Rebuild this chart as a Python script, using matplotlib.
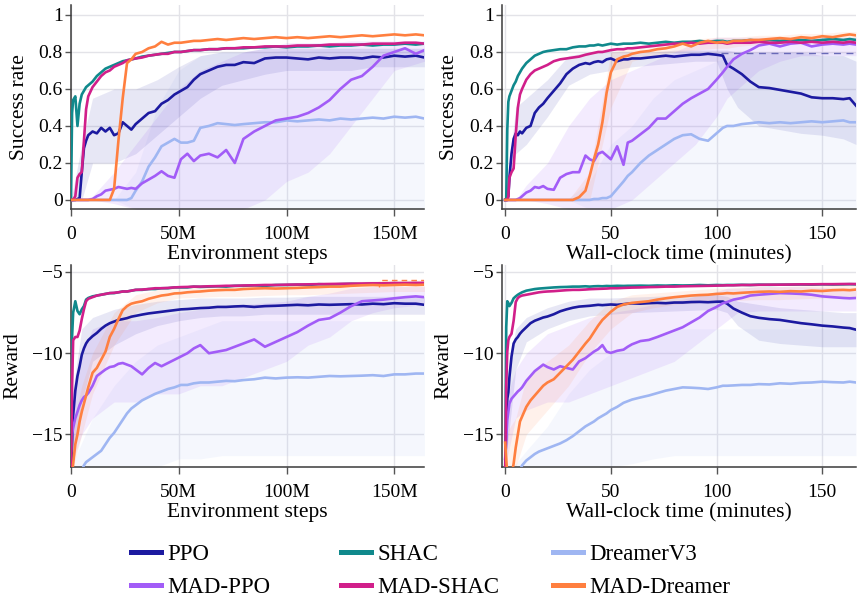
import matplotlib
matplotlib.use("Agg")
import matplotlib.pyplot as plt
from matplotlib.lines import Line2D

# ---------------- data ----------------
STEPS = [0, 0.5, 1, 2, 3, 4, 5, 6, 7, 8, 10, 12, 14, 16, 18, 20, 22, 24, 26, 28, 30,
         33, 36, 39, 42, 45, 48, 51, 54, 57, 60, 64, 68, 72, 76, 80, 85, 90, 95, 100,
         105, 110, 115, 120, 125, 130, 135, 140, 145, 150, 155, 160, 164]
MINUTES = [0, 0.5, 1, 1.5, 2, 3, 4, 5, 6, 7, 8, 10, 12, 14, 16, 18, 20, 23, 26, 29, 32,
           35, 38, 40, 42, 44, 46, 48, 50, 53, 56, 58, 60, 64, 68, 72, 76, 80, 84, 88,
           92, 96, 100, 103, 105, 108, 112, 116, 120, 125, 130, 135, 140, 145, 150, 155,
           160, 163, 166]

METHODS = ["PPO", "SHAC", "DreamerV3", "MAD-PPO", "MAD-SHAC", "MAD-Dreamer"]
COLORS = {"PPO": "#1c1aa0", "SHAC": "#10898c", "DreamerV3": "#9fb6f2",
          "MAD-PPO": "#a25cf7", "MAD-SHAC": "#d11f8a", "MAD-Dreamer": "#ff7f3f"}

# success rate vs environment steps (M)
SR_STEPS_PPO = [0, 0, 0, 0, 0.005, 0.01, 0.15, 0.28, 0.32, 0.35, 0.37, 0.36, 0.39, 0.37, 0.39,
                0.35, 0.36, 0.42, 0.40, 0.38, 0.41, 0.44, 0.47, 0.48, 0.52, 0.54, 0.57, 0.59,
                0.61, 0.65, 0.68, 0.70, 0.72, 0.73, 0.73, 0.745, 0.74, 0.765, 0.77, 0.77,
                0.765, 0.76, 0.77, 0.765, 0.77, 0.77, 0.765, 0.775, 0.77, 0.78, 0.775, 0.78, 0.77]
SR_STEPS_SHAC = [0, 0.47, 0.54, 0.56, 0.40, 0.52, 0.57, 0.59, 0.61, 0.62, 0.64, 0.67, 0.69,
                 0.71, 0.72, 0.73, 0.74, 0.75, 0.755, 0.76, 0.765, 0.775, 0.78, 0.785, 0.79,
                 0.795, 0.80, 0.80, 0.805, 0.81, 0.81, 0.815, 0.815, 0.82, 0.82, 0.82, 0.825,
                 0.825, 0.83, 0.825, 0.83, 0.83, 0.835, 0.83, 0.835, 0.835, 0.84, 0.835, 0.84,
                 0.84, 0.845, 0.84, 0.845]
SR_STEPS_DREAMER = [0] * 19 + [0.01, 0.05, 0.1, 0.18, 0.23, 0.29, 0.31, 0.33, 0.31, 0.31,
                               0.32, 0.39, 0.40, 0.415, 0.41, 0.405, 0.41, 0.415, 0.42, 0.42,
                               0.43, 0.425, 0.43, 0.435, 0.43, 0.44, 0.435, 0.44, 0.445, 0.44,
                               0.45, 0.445, 0.45, 0.44]
SR_STEPS_MADPPO = [0] * 10 + [0.005, 0.02, 0.03, 0.05, 0.055, 0.06, 0.07, 0.065, 0.06, 0.065,
                              0.06, 0.09, 0.11, 0.13, 0.155, 0.13, 0.12, 0.22, 0.25, 0.21,
                              0.24, 0.25, 0.23, 0.27, 0.20, 0.33, 0.37, 0.40, 0.43, 0.44,
                              0.45, 0.47, 0.50, 0.54, 0.60, 0.65, 0.67, 0.72, 0.78, 0.80,
                              0.82, 0.79, 0.81]
SR_STEPS_MADSHAC = [0, 0, 0, 0.02, 0.12, 0.14, 0.15, 0.32, 0.49, 0.56, 0.61, 0.64, 0.67, 0.69,
                    0.70, 0.72, 0.73, 0.74, 0.755, 0.76, 0.765, 0.77, 0.78, 0.785, 0.79, 0.79,
                    0.80, 0.80, 0.805, 0.81, 0.81, 0.815, 0.815, 0.82, 0.82, 0.825, 0.825, 0.83,
                    0.83, 0.83, 0.835, 0.835, 0.835, 0.84, 0.84, 0.84, 0.84, 0.845, 0.845,
                    0.845, 0.85, 0.85, 0.845]
SR_STEPS_MADDREAMER = [0] * 15 + [0.06, 0.32, 0.55, 0.74, 0.76, 0.79, 0.80, 0.82, 0.83, 0.855,
                                  0.84, 0.85, 0.85, 0.855, 0.86, 0.86, 0.865, 0.87, 0.865, 0.87,
                                  0.875, 0.87, 0.875, 0.88, 0.875, 0.88, 0.875, 0.88, 0.885,
                                  0.88, 0.885, 0.89, 0.885, 0.89, 0.895, 0.89, 0.895, 0.89]

# success rate vs wall-clock minutes
SR_MIN_PPO = [0, 0, 0, 0.02, 0.12, 0.25, 0.33, 0.36, 0.35, 0.37, 0.36, 0.39, 0.40, 0.47, 0.50,
              0.52, 0.55, 0.59, 0.63, 0.68, 0.71, 0.73, 0.74, 0.735, 0.745, 0.75, 0.745, 0.76,
              0.765, 0.75, 0.76, 0.76, 0.765, 0.765, 0.77, 0.775, 0.78, 0.775, 0.78, 0.785,
              0.785, 0.79, 0.785, 0.78, 0.73, 0.71, 0.68, 0.64, 0.61, 0.605, 0.595, 0.585,
              0.575, 0.555, 0.55, 0.55, 0.545, 0.55, 0.51]
SR_MIN_SHAC = [0, 0, 0.38, 0.53, 0.56, 0.59, 0.62, 0.64, 0.67, 0.69, 0.71, 0.74, 0.76, 0.78,
               0.79, 0.80, 0.805, 0.81, 0.815, 0.815, 0.825, 0.83, 0.83, 0.835, 0.835, 0.84,
               0.835, 0.84, 0.845, 0.84, 0.845, 0.845, 0.845, 0.85, 0.845, 0.85, 0.855, 0.85,
               0.855, 0.855, 0.86, 0.855, 0.86, 0.86, 0.855, 0.86, 0.86, 0.865, 0.86, 0.865,
               0.86, 0.865, 0.865, 0.86, 0.865, 0.87, 0.865, 0.87, 0.865]
SR_MIN_DREAMER = [0] * 24 + [0.005, 0.005, 0.01, 0.01, 0.02, 0.06, 0.10, 0.13, 0.15, 0.20,
                             0.24, 0.27, 0.30, 0.33, 0.35, 0.355, 0.33, 0.32, 0.36, 0.39,
                             0.40, 0.40, 0.41, 0.415, 0.42, 0.415, 0.42, 0.415, 0.42, 0.425,
                             0.42, 0.425, 0.43, 0.42, 0.42]
SR_MIN_MADPPO = [0] * 8 + [0.005, 0.01, 0.02, 0.04, 0.05, 0.07, 0.065, 0.075, 0.06, 0.055,
                           0.12, 0.14, 0.15, 0.15, 0.24, 0.22, 0.21, 0.25, 0.26, 0.24,
                           0.22, 0.29, 0.19, 0.31, 0.32, 0.355, 0.39, 0.44, 0.44, 0.48,
                           0.52, 0.55, 0.575, 0.60, 0.65, 0.69, 0.72, 0.76, 0.79, 0.81,
                           0.835, 0.845, 0.83, 0.845, 0.85, 0.83, 0.84, 0.845, 0.84, 0.845,
                           0.84]
SR_MIN_MADSHAC = [0, 0, 0, 0.02, 0.12, 0.15, 0.17, 0.35, 0.5, 0.57, 0.6, 0.65, 0.68, 0.7, 0.71,
                  0.72, 0.73, 0.75, 0.76, 0.765, 0.77, 0.775, 0.785, 0.79, 0.795, 0.80, 0.80,
                  0.805, 0.81, 0.815, 0.815, 0.82, 0.82, 0.825, 0.83, 0.835, 0.84, 0.845, 0.845,
                  0.85, 0.845, 0.85, 0.85, 0.85, 0.845, 0.85, 0.85, 0.85, 0.855, 0.85, 0.85,
                  0.855, 0.85, 0.855, 0.85, 0.855, 0.85, 0.855, 0.85]
SR_MIN_MADDREAMER = [0] * 21 + [0.015, 0.05, 0.13, 0.22, 0.3, 0.42, 0.58, 0.69, 0.76, 0.775,
                                0.78, 0.79, 0.80, 0.805, 0.815, 0.82, 0.83, 0.845, 0.83, 0.85,
                                0.86, 0.85, 0.855, 0.85, 0.86, 0.86, 0.865, 0.865, 0.87, 0.875,
                                0.87, 0.88, 0.875, 0.885, 0.88, 0.89, 0.895, 0.89]

# reward vs environment steps
R_STEPS_PPO = [-17.5, -15.5, -13.8, -12.3, -11.4, -10.8, -10.1, -9.7, -9.4, -9.2, -8.95, -8.75,
               -8.5, -8.3, -8.15, -8.05, -7.95, -7.9, -7.84, -7.75, -7.7, -7.62, -7.55, -7.5,
               -7.45, -7.4, -7.35, -7.3, -7.28, -7.25, -7.22, -7.2, -7.15, -7.15, -7.12, -7.1,
               -7.15, -7.1, -7.08, -7.05, -7.02, -7.05, -7.0, -7.02, -7.0, -6.98, -7.0, -6.95,
               -6.98, -6.92, -6.95, -6.95, -7.02]
R_STEPS_SHAC = [-17.5, -9.0, -7.5, -6.8, -7.4, -7.6, -7.3, -7.1, -6.7, -6.6, -6.5, -6.45, -6.4,
                -6.35, -6.3, -6.3, -6.25, -6.2, -6.2, -6.15, -6.1, -6.1, -6.05, -6.05, -6.0,
                -6.0, -5.95, -5.95, -5.95, -5.9, -5.92, -5.9, -5.88, -5.9, -5.85, -5.85, -5.82,
                -5.85, -5.8, -5.8, -5.78, -5.8, -5.75, -5.77, -5.75, -5.73, -5.75, -5.72, -5.72,
                -5.7, -5.72, -5.7, -5.7]
R_STEPS_DREAMER = [-18, -18, -18, -18, -18, -17.6, -17.2, -16.9, -16.7, -16.6, -16.4, -16.2,
                   -16.0, -15.6, -15.2, -14.9, -14.5, -14.1, -13.7, -13.4, -13.2, -12.9, -12.7,
                   -12.5, -12.35, -12.2, -12.1, -11.95, -11.95, -11.85, -11.8, -11.8, -11.75,
                   -11.7, -11.72, -11.65, -11.6, -11.5, -11.55, -11.5, -11.48, -11.5, -11.45,
                   -11.4, -11.42, -11.4, -11.38, -11.35, -11.4, -11.3, -11.3, -11.25, -11.25]
R_STEPS_MADPPO = [-16.0, -15.0, -14.6, -14.0, -13.6, -13.2, -12.9, -12.7, -12.6, -12.45, -12.0,
                  -11.4, -11.2, -11.0, -10.85, -10.8, -10.65, -10.6, -10.7, -10.8, -11.0, -11.3,
                  -10.9, -10.6, -10.8, -10.6, -10.4, -10.2, -10.0, -9.7, -9.5, -10.0, -9.9,
                  -9.8, -9.6, -9.4, -9.15, -9.6, -9.3, -9.0, -8.7, -8.3, -7.95, -7.85, -7.5,
                  -7.1, -6.8, -6.75, -6.7, -6.62, -6.55, -6.5, -6.55]
R_STEPS_MADSHAC = [-17.5, -12, -9.2, -9.0, -9.0, -8.6, -7.9, -7.3, -6.8, -6.65, -6.55, -6.45,
                   -6.4, -6.35, -6.3, -6.28, -6.25, -6.2, -6.2, -6.15, -6.1, -6.08, -6.05, -6.0,
                   -6.0, -5.98, -5.95, -5.93, -5.92, -5.9, -5.9, -5.88, -5.87, -5.85, -5.85,
                   -5.83, -5.82, -5.8, -5.8, -5.78, -5.77, -5.76, -5.75, -5.74, -5.73, -5.72,
                   -5.71, -5.7, -5.7, -5.68, -5.68, -5.67, -5.67]
R_STEPS_MADDREAMER = [-17.5, -17.5, -16.8, -15.6, -15.0, -14.2, -13.6, -13.1, -12.6, -12.1,
                      -11.2, -10.9, -10.4, -9.9, -9.0, -8.5, -7.9, -7.35, -7.1, -6.95, -6.88,
                      -6.8, -6.65, -6.55, -6.45, -6.4, -6.32, -6.3, -6.25, -6.22, -6.2, -6.15,
                      -6.12, -6.1, -6.1, -6.05, -6.02, -6.0, -6.02, -6.0, -5.98, -5.95, -5.93,
                      -5.9, -5.9, -5.85, -5.82, -5.8, -5.82, -5.8, -5.78, -5.8, -5.78]

# reward vs wall-clock minutes
R_MIN_PPO = [-17.5, -14.5, -12.8, -12.4, -11.5, -10.2, -9.4, -9.15, -9.0, -8.8, -8.65, -8.4,
             -8.15, -8.0, -7.9, -7.8, -7.74, -7.6, -7.42, -7.3, -7.2, -7.13, -7.1, -7.08,
             -7.05, -7.02, -7.04, -7.02, -7.0, -7.02, -6.98, -6.95, -6.93, -6.95, -6.92, -6.9,
             -6.92, -6.88, -6.88, -6.85, -6.84, -6.86, -6.83, -6.82, -6.95, -7.25, -7.5,
             -7.72, -7.82, -7.9, -7.95, -8.05, -8.15, -8.22, -8.3, -8.35, -8.42, -8.45, -8.55]
R_MIN_SHAC = [-17.5, -8.4, -6.8, -6.9, -7.1, -6.9, -6.62, -6.5, -6.4, -6.32, -6.25, -6.15,
              -6.1, -6.05, -6.02, -6.0, -5.98, -5.95, -5.93, -5.92, -5.9, -5.9, -5.88, -5.9,
              -5.88, -5.87, -5.88, -5.86, -5.87, -5.85, -5.86, -5.85, -5.85, -5.84, -5.85,
              -5.83, -5.84, -5.82, -5.83, -5.82, -5.8, -5.82, -5.8, -5.81, -5.8, -5.8, -5.79,
              -5.8, -5.78, -5.79, -5.78, -5.78, -5.77, -5.78, -5.76, -5.77, -5.76, -5.75, -5.76]
R_MIN_DREAMER = [-18] * 9 + [-17.2, -16.9, -16.6, -16.4, -16.2, -16.05, -15.95, -15.85, -15.7,
                             -15.55, -15.35, -15.1, -14.8, -14.5, -14.35, -14.2, -14.0,
                             -13.85, -13.7, -13.5, -13.3, -13.05, -12.95, -12.85, -12.72,
                             -12.6, -12.45, -12.3, -12.2, -12.1, -12.12, -12.15, -12.2, -12.1,
                             -12.0, -12.0, -11.98, -11.95, -11.95, -11.9, -11.92, -11.85,
                             -11.88, -11.82, -11.8, -11.75, -11.78, -11.8, -11.75, -11.8]
R_MIN_MADPPO = [-16.5, -15.3, -14.1, -13.6, -13.1, -12.8, -12.65, -12.5, -12.35, -12.24, -12.1,
                -11.7, -11.4, -11.1, -10.9, -10.7, -10.85, -11.0, -10.8, -10.9, -11.0, -10.5,
                -10.3, -10.1, -9.9, -9.75, -9.5, -9.9, -9.98, -9.85, -9.78, -9.6, -9.45, -9.25,
                -9.18, -9.0, -8.8, -8.6, -8.4, -8.1, -7.8, -7.4, -7.15, -6.92, -6.85, -6.7,
                -6.6, -6.45, -6.4, -6.35, -6.3, -6.32, -6.35, -6.4, -6.5, -6.55, -6.6, -6.62,
                -6.6]
R_MIN_MADSHAC = [-17.5, -12, -9.9, -9.2, -9.0, -8.8, -8.0, -6.85, -6.6, -6.5, -6.45, -6.4, -6.35,
                 -6.3, -6.25, -6.22, -6.2, -6.18, -6.15, -6.12, -6.1, -6.1, -6.08, -6.06, -6.05,
                 -6.04, -6.03, -6.02, -6.0, -6.0, -5.98, -5.97, -5.96, -5.95, -5.93, -5.92,
                 -5.9, -5.9, -5.88, -5.87, -5.86, -5.85, -5.84, -5.83, -5.82, -5.82, -5.8, -5.8,
                 -5.79, -5.78, -5.78, -5.77, -5.76, -5.76, -5.75, -5.75, -5.74, -5.74, -5.74]
R_MIN_MADDREAMER = [-15.5, -16.5, -17.5, -17.5, -17.5, -17.5, -16.8, -15.8, -15.0, -14.2, -13.9,
                    -13.3, -12.9, -12.6, -12.3, -12.0, -11.8, -11.6, -11.2, -10.8, -10.4, -9.9,
                    -9.4, -9.1, -8.7, -8.3, -7.95, -7.7, -7.45, -7.15, -7.0, -6.95, -6.9, -6.85,
                    -6.8, -6.7, -6.62, -6.55, -6.5, -6.45, -6.42, -6.4, -6.35, -6.33, -6.3,
                    -6.32, -6.28, -6.25, -6.22, -6.2, -6.22, -6.18, -6.2, -6.15, -6.17, -6.12,
                    -6.1, -6.12, -6.08]

# shaded spread bands (lower, upper) on coarse grids
BAND_STEPS = [0, 5, 10, 20, 30, 40, 50, 60, 70, 80, 90, 100, 110, 120, 130, 140, 150, 164]
BAND_MIN = [0, 5, 10, 20, 30, 40, 50, 60, 70, 80, 90, 100, 105, 110, 120, 130, 140, 150, 160, 166]

SR_STEPS_BAND = {
    "PPO": ([0, 0.0, 0.2, 0.2, 0.25, 0.35, 0.45, 0.55, 0.62, 0.65, 0.68, 0.7, 0.7, 0.7, 0.7, 0.72, 0.72, 0.72],
            [0, 0.3, 0.55, 0.6, 0.6, 0.65, 0.72, 0.78, 0.8, 0.8, 0.82, 0.82, 0.82, 0.82, 0.82, 0.82, 0.82, 0.82]),
    "MAD-PPO": ([0, 0, 0, -0.02, -0.05, -0.1, -0.1, -0.1, -0.1, -0.05, 0.0, 0.1, 0.15, 0.25, 0.4, 0.55, 0.7, 0.75],
                [0, 0, 0.02, 0.15, 0.3, 0.45, 0.6, 0.7, 0.75, 0.8, 0.82, 0.85, 0.85, 0.85, 0.86, 0.86, 0.86, 0.86]),
    "DreamerV3": ([0, 0, 0, 0, -0.05, -0.05, -0.05, -0.05, -0.05, -0.05, -0.05, -0.05, -0.05, -0.05, -0.05, -0.05, -0.05, -0.05],
                  [0, 0, 0, 0, 0.15, 0.5, 0.7, 0.78, 0.8, 0.8, 0.8, 0.81, 0.81, 0.82, 0.82, 0.82, 0.82, 0.82]),
}
SR_MIN_BAND = {
    "PPO": ([0, 0.25, 0.3, 0.45, 0.62, 0.68, 0.7, 0.72, 0.73, 0.74, 0.75, 0.75, 0.6, 0.5, 0.4, 0.38, 0.36, 0.35, 0.33, 0.3],
            [0, 0.5, 0.55, 0.65, 0.78, 0.8, 0.8, 0.8, 0.8, 0.81, 0.81, 0.81, 0.81, 0.8, 0.8, 0.8, 0.8, 0.78, 0.78, 0.75]),
    "MAD-PPO": ([0, 0, 0, -0.02, -0.05, -0.05, -0.05, 0.0, 0.1, 0.2, 0.3, 0.45, 0.55, 0.6, 0.7, 0.75, 0.78, 0.78, 0.78, 0.78],
                [0, 0, 0.08, 0.2, 0.4, 0.55, 0.65, 0.7, 0.75, 0.8, 0.85, 0.88, 0.88, 0.88, 0.88, 0.88, 0.88, 0.88, 0.88, 0.88]),
    "DreamerV3": ([0, 0, 0, 0, 0, -0.05, -0.05, -0.05, -0.05, -0.05, -0.05, -0.05, -0.05, -0.05, -0.05, -0.05, -0.05, -0.05, -0.05, -0.05],
                  [0, 0, 0, 0, 0.01, 0.1, 0.3, 0.4, 0.55, 0.65, 0.7, 0.75, 0.77, 0.78, 0.8, 0.8, 0.8, 0.8, 0.8, 0.8]),
    "MAD-Dreamer": ([0, 0, 0, 0, 0, 0, 0.5, 0.75, 0.78, 0.8, 0.81, 0.82, 0.82, 0.83, 0.84, 0.84, 0.85, 0.85, 0.86, 0.86],
                    [0, 0, 0, 0, 0, 0.15, 0.8, 0.82, 0.84, 0.86, 0.87, 0.88, 0.88, 0.88, 0.89, 0.89, 0.9, 0.9, 0.91, 0.91]),
}
R_STEPS_BAND = {
    "PPO": ([-17, -13, -10.5, -9.5, -8.8, -8.3, -8.0, -7.8, -7.7, -7.7, -7.6, -7.6, -7.6, -7.6, -7.6, -7.6, -7.6, -7.6],
            [-13, -8.5, -7.8, -7.3, -7.0, -6.8, -6.7, -6.6, -6.6, -6.6, -6.55, -6.55, -6.5, -6.5, -6.5, -6.5, -6.5, -6.5]),
    "MAD-PPO": ([-17, -15, -14, -13, -13, -12.5, -12.5, -12, -12, -11.5, -11, -10.5, -9.5, -9, -8, -7.5, -7.2, -7.0],
                [-13, -10, -8.5, -8, -8, -7.8, -7.5, -7.3, -7.2, -7.0, -6.9, -6.8, -6.5, -6.3, -6.0, -5.9, -5.9, -5.9]),
    "DreamerV3": ([-18, -18, -18, -18, -18, -17, -16.5, -16.5, -16.3, -16.3, -16.3, -16.3, -16.3, -16.3, -16.3, -16.3, -16.3, -16.3],
                  [-17, -15.5, -14, -12, -10.5, -9.5, -9, -8.5, -8, -8, -8, -8, -8, -8, -8, -8, -8, -8]),
    "MAD-Dreamer": ([-17.5, -15, -12.5, -9.5, -7.5, -6.9, -6.6, -6.55, -6.5, -6.5, -6.45, -6.4, -6.4, -6.35, -6.3, -6.25, -6.2, -6.2],
                    [-15, -12, -10, -7.5, -6.4, -6.1, -5.9, -5.85, -5.8, -5.75, -5.7, -5.7, -5.65, -5.6, -5.6, -5.55, -5.5, -5.5]),
}
R_MIN_BAND = {
    "PPO": ([-17, -11, -9.3, -8.5, -8, -7.7, -7.6, -7.5, -7.45, -7.4, -7.35, -7.3, -7.5, -8.3, -9.2, -9.4, -9.5, -9.6, -9.6, -9.6],
            [-12, -8.5, -7.8, -7.2, -6.8, -6.6, -6.6, -6.55, -6.5, -6.45, -6.4, -6.4, -6.5, -6.8, -7.0, -7.2, -7.3, -7.4, -7.5, -7.5]),
    "MAD-PPO": ([-17, -14, -13.5, -13, -13, -12.5, -12, -11.5, -11, -10.5, -9.5, -8.5, -8, -7.5, -7.4, -7.4, -7.4, -7.4, -7.4, -7.4],
                [-13, -11, -10, -8.8, -8.3, -7.8, -7.5, -7.3, -7.0, -6.8, -6.5, -6.2, -6.0, -6.0, -5.9, -5.9, -5.9, -5.95, -6.0, -6.0]),
    "DreamerV3": ([-18, -18, -18, -18, -18, -18, -17, -16.8, -16.5, -16.3, -16.3, -16.3, -16.3, -16.3, -16.3, -16.3, -16.3, -16.3, -16.3, -16.3],
                  [-17, -16.8, -16, -14.5, -12.5, -11, -10, -9.5, -9, -8.5, -8.5, -8.5, -8.5, -8.5, -8.5, -8.5, -8.5, -8.5, -8.5, -8.5]),
    "MAD-Dreamer": ([-18, -17, -15, -13.5, -12, -10, -8.5, -7.5, -7.2, -7.0, -6.9, -6.8, -6.8, -6.75, -6.7, -6.7, -6.65, -6.6, -6.6, -6.6],
                    [-15, -14, -11.5, -10.5, -9.5, -8, -6.8, -6.4, -6.3, -6.2, -6.1, -6.0, -6.0, -5.95, -5.9, -5.9, -5.85, -5.85, -5.8, -5.8]),
}

# dashed reference marks
REF_TR_X = [102, 166]
REF_TR_Y = [0.797, 0.797]
REF_BL_X = [143, 143, 164]
REF_BL_Y = [-5.9, -5.49, -5.49]

SR_STEPS = {"PPO": SR_STEPS_PPO, "SHAC": SR_STEPS_SHAC, "DreamerV3": SR_STEPS_DREAMER,
            "MAD-PPO": SR_STEPS_MADPPO, "MAD-SHAC": SR_STEPS_MADSHAC, "MAD-Dreamer": SR_STEPS_MADDREAMER}
SR_MIN = {"PPO": SR_MIN_PPO, "SHAC": SR_MIN_SHAC, "DreamerV3": SR_MIN_DREAMER,
          "MAD-PPO": SR_MIN_MADPPO, "MAD-SHAC": SR_MIN_MADSHAC, "MAD-Dreamer": SR_MIN_MADDREAMER}
R_STEPS = {"PPO": R_STEPS_PPO, "SHAC": R_STEPS_SHAC, "DreamerV3": R_STEPS_DREAMER,
           "MAD-PPO": R_STEPS_MADPPO, "MAD-SHAC": R_STEPS_MADSHAC, "MAD-Dreamer": R_STEPS_MADDREAMER}
R_MIN = {"PPO": R_MIN_PPO, "SHAC": R_MIN_SHAC, "DreamerV3": R_MIN_DREAMER,
         "MAD-PPO": R_MIN_MADPPO, "MAD-SHAC": R_MIN_MADSHAC, "MAD-Dreamer": R_MIN_MADDREAMER}

STEP_TICKS = [0, 50, 100, 150]
STEP_TICK_LABELS = ["0", "50M", "100M", "150M"]
MIN_TICKS = [0, 50, 100, 150]
SR_TICKS = [0, 0.2, 0.4, 0.6, 0.8, 1]
SR_TICK_LABELS = ["0", "0.2", "0.4", "0.6", "0.8", "1"]
R_TICKS = [-15, -10, -5]

# ---------------- plotting ----------------
plt.rcParams["font.family"] = ["Liberation Serif", "DejaVu Serif"]

W, H = 862, 603
fig = plt.figure(figsize=(W / 100, H / 100), dpi=100)


def px_axes(left, top, right, bottom):
    return fig.add_axes([left / W, 1 - bottom / H, (right - left) / W, (bottom - top) / H])


ax_tl = px_axes(71, 5, 424, 209)
ax_tr = px_axes(502, 5, 856, 209)
ax_bl = px_axes(71, 265, 424, 467)
ax_br = px_axes(502, 265, 856, 467)

DRAW_ORDER = ["DreamerV3", "PPO", "MAD-PPO", "SHAC", "MAD-SHAC", "MAD-Dreamer"]
BAND_ALPHA = {"PPO": 0.10, "MAD-PPO": 0.12, "DreamerV3": 0.10, "MAD-Dreamer": 0.10}


def draw(ax, x, series, band_x, bands):
    for m in ["DreamerV3", "MAD-PPO", "PPO", "MAD-Dreamer"]:
        if m in bands:
            lo, hi = bands[m]
            ax.fill_between(band_x, lo, hi, color=COLORS[m], alpha=BAND_ALPHA[m], lw=0, zorder=1)
    for m in DRAW_ORDER:
        ax.plot(x, series[m], color=COLORS[m], lw=1.9, zorder=3, solid_joinstyle="round")


def style(ax):
    for s in ["top", "right"]:
        ax.spines[s].set_visible(False)
    for s in ["left", "bottom"]:
        ax.spines[s].set_color("#3a3a3a")
        ax.spines[s].set_linewidth(1.1)
    ax.grid(True, color="#e3e3e8", lw=1.0)
    ax.set_axisbelow(True)
    ax.tick_params(axis="y", labelsize=14, length=4, width=1, color="#555555", pad=2)
    ax.tick_params(axis="x", labelsize=14, length=5, width=1, color="#555555", pad=7)


draw(ax_tl, STEPS, SR_STEPS, BAND_STEPS, SR_STEPS_BAND)
draw(ax_tr, MINUTES, SR_MIN, BAND_MIN, SR_MIN_BAND)
draw(ax_bl, STEPS, R_STEPS, BAND_STEPS, R_STEPS_BAND)
draw(ax_br, MINUTES, R_MIN, BAND_MIN, R_MIN_BAND)
ax_tr.plot(REF_TR_X, REF_TR_Y, color="#6a6ab8", lw=1.0, ls=(0, (5, 4)), zorder=2)
ax_bl.plot(REF_BL_X, REF_BL_Y, color=COLORS["MAD-Dreamer"], lw=1.0, ls=(0, (4, 3)), zorder=2)

for ax in (ax_tl, ax_bl):
    ax.set_xlim(0, 163.8)
    ax.set_xticks(STEP_TICKS)
    ax.set_xticklabels(STEP_TICK_LABELS)
    ax.set_xlabel("Environment steps", fontsize=15.5, labelpad=2)
for ax in (ax_tr, ax_br):
    ax.set_xlim(-1.5, 166)
    ax.set_xticks(MIN_TICKS)
    ax.set_xlabel("Wall-clock time (minutes)", fontsize=15.5, labelpad=2)
for ax in (ax_tl, ax_tr):
    ax.set_ylim(-0.049, 1.054)
    ax.set_yticks(SR_TICKS)
    ax.set_yticklabels(SR_TICK_LABELS)
    ax.set_ylabel("Success rate", fontsize=15.5)
for ax in (ax_bl, ax_br):
    ax.set_ylim(-17.0, -4.57)
    ax.set_yticks(R_TICKS)
    ax.set_ylabel("Reward", fontsize=15.5)

for ax in (ax_tl, ax_tr, ax_bl, ax_br):
    style(ax)
ax_tl.yaxis.set_label_coords(-0.118, 0.5)
ax_tr.yaxis.set_label_coords(-0.122, 0.5)
ax_bl.yaxis.set_label_coords(-0.138, 0.5)
ax_br.yaxis.set_label_coords(-0.138, 0.5)

# legend: three fixed columns, two rows each
LEGEND_COLUMNS = [["PPO", "MAD-PPO"], ["SHAC", "MAD-SHAC"], ["DreamerV3", "MAD-Dreamer"]]
LEGEND_COL_X = [131, 341, 553]
for col, xpx in zip(LEGEND_COLUMNS, LEGEND_COL_X):
    handles = [Line2D([], [], color=COLORS[m], lw=3.6) for m in col]
    fig.legend(handles, col, ncol=1, loc="center left",
               bbox_to_anchor=(xpx / W, 1 - 571 / H), frameon=False, fontsize=16.5,
               handlelength=1.3, handletextpad=0.3, labelspacing=0.48,
               borderpad=0, borderaxespad=0)

fig.savefig("out.png", dpi=100)
